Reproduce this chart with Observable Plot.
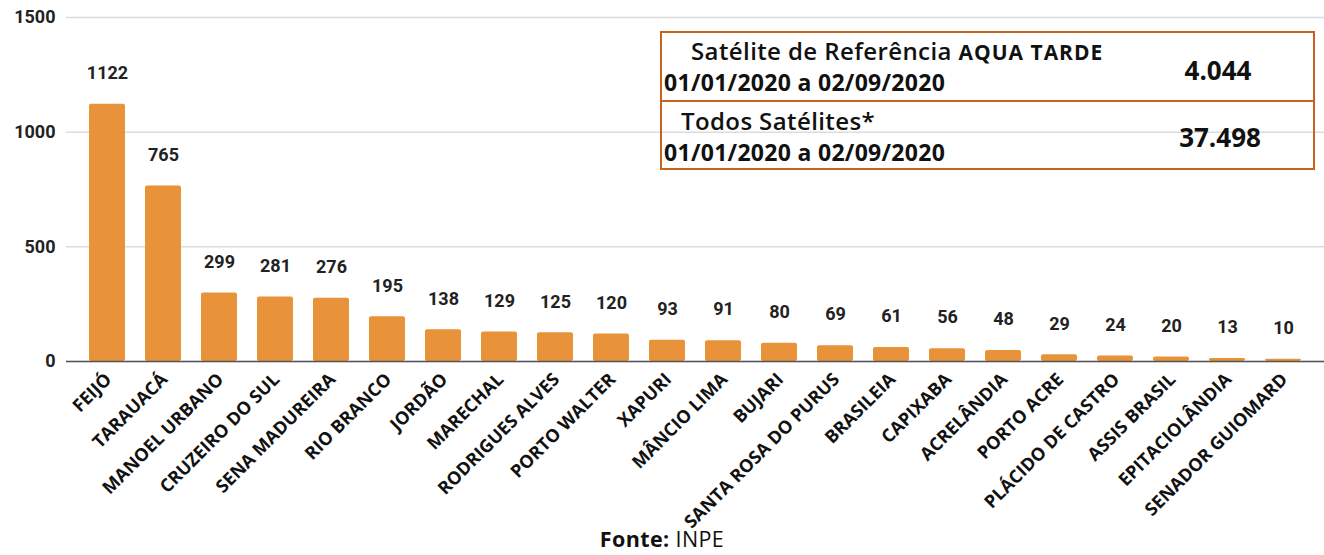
<!DOCTYPE html>
<html><head><meta charset="utf-8">
<script src="https://cdn.jsdelivr.net/npm/d3@7"></script>
<script src="https://cdn.jsdelivr.net/npm/@observablehq/plot@0.6"></script>
<style>
body{margin:0;background:#fff;}
#wrap{position:relative;width:1324px;height:555px;}
#box{position:absolute;left:660px;top:31px;width:651px;height:135px;border:2px solid #C8631E;font-family:"Open Sans",sans-serif;color:#111;}
#box .div{position:absolute;left:0;right:0;top:67px;border-top:2px solid #C8631E;}
#box .t{position:absolute;white-space:nowrap;line-height:1;}
#caption{position:absolute;left:0;width:1324px;top:528px;text-align:center;font-family:"Open Sans",sans-serif;font-size:21.5px;letter-spacing:0.4px;color:#111;line-height:1;}
</style></head><body>
<div id="wrap"><div id="chart"></div><div id="box"></div><div id="caption"></div></div>
<script>
const municipios = ["FEIJÓ","TARAUACÁ","MANOEL URBANO","CRUZEIRO DO SUL","SENA MADUREIRA","RIO BRANCO","JORDÃO","MARECHAL","RODRIGUES ALVES","PORTO WALTER","XAPURI","MÂNCIO LIMA","BUJARI","SANTA ROSA DO PURUS","BRASILEIA","CAPIXABA","ACRELÂNDIA","PORTO ACRE","PLÁCIDO DE CASTRO","ASSIS BRASIL","EPITACIOLÂNDIA","SENADOR GUIOMARD"];
const focos = [1122,765,299,281,276,195,138,129,125,120,93,91,80,69,61,56,48,29,24,20,13,10];
const yTicks = [0,500,1000,1500];
const tabelaRotulos = ["Satélite de Referência","Todos Satélites*"];
const tabelaSufixos = ["AQUA TARDE",""];
const tabelaPeriodos = ["01/01/2020 a 02/09/2020","01/01/2020 a 02/09/2020"];
const tabelaTotais = ["4.044","37.498"];
const fonteRotulo = "Fonte:";
const fonteNome = "INPE";

const data = municipios.map((m,i)=>({municipio:m, focos:focos[i]}));

const chart = Plot.plot({
  width:1324, height:528,
  marginTop:17, marginBottom:167, marginLeft:66, marginRight:0,
  style:{fontFamily:"Roboto, sans-serif", background:"transparent", color:"#222", overflow:"visible"},
  x:{type:"band", domain:municipios, padding:0.36, label:null},
  y:{domain:[0,1500], label:null},
  marks:[
    Plot.gridY(yTicks,{stroke:"#dcdcdc", strokeOpacity:1, strokeWidth:1.5}),
    Plot.axisY(yTicks,{tickSize:0, tickPadding:11, fontSize:18, fontWeight:"bold", fontFamily:"Roboto, sans-serif", label:null, fill:"#222", tickFormat:d=>String(d)}),
    Plot.barY(data,{x:"municipio", y:"focos", fill:"#E8933A", rx:2}),
    Plot.ruleY([0],{stroke:"#555", strokeWidth:1.5}),
    Plot.text(data,{x:"municipio", y:"focos", text:d=>String(d.focos), dy:-31, fontSize:18, fontWeight:"bold", fontFamily:"Roboto, sans-serif", fill:"#222"}),
    Plot.axisX({tickRotate:-45, tickSize:0, tickPadding:15, dx:1, fontSize:18, fontWeight:"bold", label:null, fill:"#111", fontFamily:"Open Sans, sans-serif"})
  ]
});
document.getElementById("chart").appendChild(chart);

const box = document.getElementById("box");
function addText(txt, left, top, size, weight, extra){
  const s = document.createElement("div");
  s.className="t"; s.style.left=left+"px"; s.style.top=top+"px";
  s.style.fontSize=size+"px"; s.style.fontWeight=weight;
  if(extra) Object.assign(s.style, extra);
  s.innerHTML = txt; box.appendChild(s); return s;
}
const divline = document.createElement("div"); divline.className="div"; box.appendChild(divline);
// row 1
addText(tabelaRotulos[0] + ' <span style="font-size:21px;font-weight:bold;letter-spacing:1px">' + tabelaSufixos[0] + '</span>', 29, 6, 24, "600", {letterSpacing:"0.4px"});
addText(tabelaPeriodos[0], 2, 38, 23, "bold", {letterSpacing:"0.3px"});
addText(tabelaTotais[0], 506, 24, 26, "bold", {width:100+"px", textAlign:"center"});
// row 2
addText(tabelaRotulos[1], 19, 76, 24, "600", {letterSpacing:"0.4px"});
addText(tabelaPeriodos[1], 2, 108, 23, "bold", {letterSpacing:"0.3px"});
addText(tabelaTotais[1], 508, 91, 26, "bold", {width:100+"px", textAlign:"center"});

document.getElementById("caption").innerHTML = '<b>' + fonteRotulo + '</b> ' + fonteNome;
</script>
</body></html>
